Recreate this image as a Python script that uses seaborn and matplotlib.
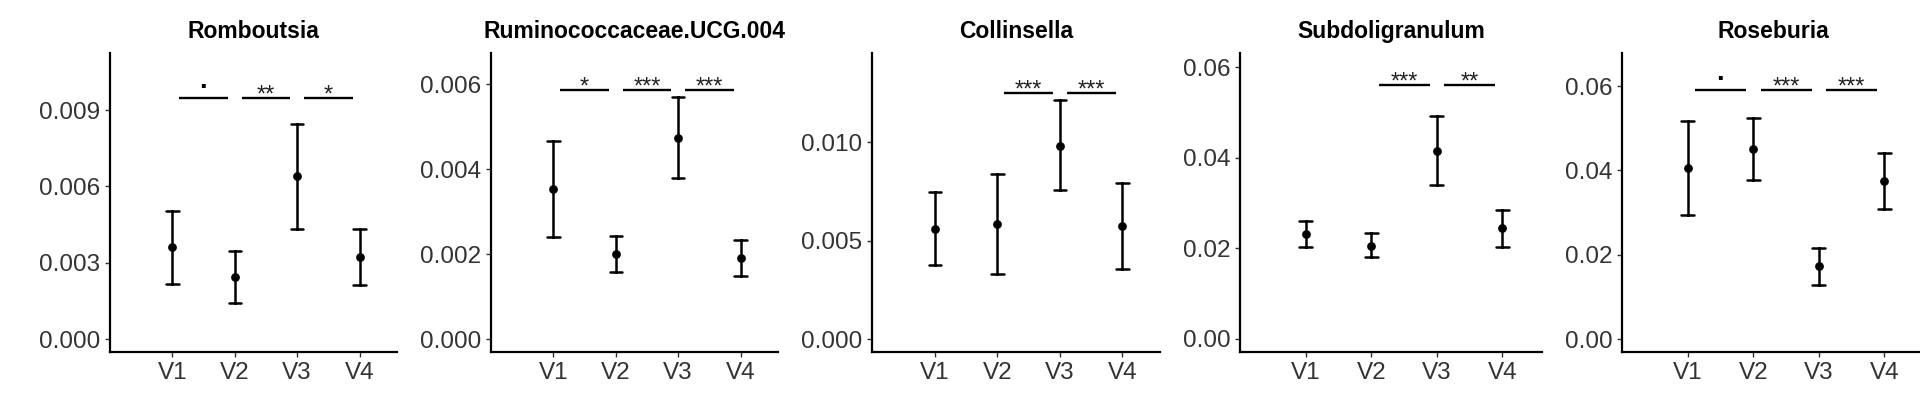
import numpy as np
import pandas as pd
import matplotlib
matplotlib.use("Agg")
import matplotlib.pyplot as plt
import seaborn as sns

# ---------------- data ----------------
visits = ["V1", "V2", "V3", "V4"]
taxa = ["Romboutsia", "Ruminococcaceae.UCG.004", "Collinsella",
        "Subdoligranulum", "Roseburia"]

romboutsia_mean = [0.00362, 0.00243, 0.00640, 0.00322]
romboutsia_low = [0.00216, 0.00140, 0.00434, 0.00212]
romboutsia_high = [0.00504, 0.00346, 0.00845, 0.00434]

rumino_mean = [0.00353, 0.00201, 0.00474, 0.00190]
rumino_low = [0.00240, 0.00159, 0.00379, 0.00149]
rumino_high = [0.00466, 0.00243, 0.00569, 0.00233]

collinsella_mean = [0.00561, 0.00583, 0.00983, 0.00575]
collinsella_low = [0.00378, 0.00329, 0.00758, 0.00358]
collinsella_high = [0.00746, 0.00841, 0.01214, 0.00795]

subdoli_mean = [0.0231, 0.0206, 0.0415, 0.0244]
subdoli_low = [0.0202, 0.0180, 0.0340, 0.0203]
subdoli_high = [0.0260, 0.0233, 0.0491, 0.0285]

roseburia_mean = [0.0406, 0.0450, 0.0173, 0.0375]
roseburia_low = [0.0295, 0.0377, 0.0129, 0.0308]
roseburia_high = [0.0517, 0.0524, 0.0216, 0.0441]

romboutsia_sig = [("V1", "V2", "."), ("V2", "V3", "**"), ("V3", "V4", "*")]
rumino_sig = [("V1", "V2", "*"), ("V2", "V3", "***"), ("V3", "V4", "***")]
collinsella_sig = [("V2", "V3", "***"), ("V3", "V4", "***")]
subdoli_sig = [("V2", "V3", "***"), ("V3", "V4", "**")]
roseburia_sig = [("V1", "V2", "."), ("V2", "V3", "***"), ("V3", "V4", "***")]
sig_levels = [0.00949, 0.00587, 0.01251, 0.05596, 0.05907]

romboutsia_ticks = [0.000, 0.003, 0.006, 0.009]
rumino_ticks = [0.000, 0.002, 0.004, 0.006]
collinsella_ticks = [0.000, 0.005, 0.010]
subdoli_ticks = [0.00, 0.02, 0.04, 0.06]
roseburia_ticks = [0.00, 0.02, 0.04, 0.06]
tick_formats = ["{:.3f}", "{:.3f}", "{:.3f}", "{:.2f}", "{:.2f}"]

means = [romboutsia_mean, rumino_mean, collinsella_mean, subdoli_mean, roseburia_mean]
lows = [romboutsia_low, rumino_low, collinsella_low, subdoli_low, roseburia_low]
highs = [romboutsia_high, rumino_high, collinsella_high, subdoli_high, roseburia_high]
sigs = [romboutsia_sig, rumino_sig, collinsella_sig, subdoli_sig, roseburia_sig]
yticks = [romboutsia_ticks, rumino_ticks, collinsella_ticks, subdoli_ticks, roseburia_ticks]

# ---------------- layout ----------------
W, H = 1920, 400
panel_left_px = [110, 491, 872.3, 1240.3, 1622.3]
panel_width_px = [287, 287, 287.7, 301.4, 301.4]
top_px, bottom_px = 53, 352
ylims = [(-0.000511, 0.011245), (-0.000306, 0.006737), (-0.000661, 0.014547),
         (-0.002868, 0.06309), (-0.003084, 0.06785)]

sns.set_theme(style="ticks")
plt.rcParams["font.family"] = ["Liberation Sans", "DejaVu Sans"]

fig = plt.figure(figsize=(W / 100, H / 100), dpi=100)
fig.patch.set_facecolor("white")

text_grey = "#333333"

for i, taxon in enumerate(taxa):
    ax = fig.add_axes([panel_left_px[i] / W, (H - bottom_px) / H,
                       panel_width_px[i] / W, (bottom_px - top_px) / H])
    df = pd.DataFrame({
        "visit": visits * 3,
        "value": list(lows[i]) + list(means[i]) + list(highs[i]),
    })
    sns.pointplot(data=df, x="visit", y="value", order=visits,
                  estimator="median",
                  errorbar=lambda v: (v.min(), v.max()),
                  color="black", capsize=0.2, linestyle="none",
                  markersize=6.3, markeredgewidth=0,
                  err_kws={"linewidth": 1.8, "color": "black"}, ax=ax)
    # significance brackets
    for a, b, lab in sigs[i]:
        x0 = visits.index(a) + 0.11
        x1 = visits.index(b) - 0.11
        yl = sig_levels[i]
        ax.plot([x0, x1], [yl, yl], color="black", lw=1.7,
                solid_capstyle="butt")
        if lab == ".":
            ax.annotate("·", xy=((x0 + x1) / 2, yl), xytext=(0, 2),
                        textcoords="offset points", ha="center",
                        va="baseline", fontsize=20, fontweight="bold",
                        color="black")
        else:
            ax.annotate(lab, xy=((x0 + x1) / 2, yl), xytext=(0, -2.5),
                        textcoords="offset points", ha="center",
                        va="baseline", fontsize=17, color="#222222")

    ax.set_xlim(-1, 3.6)
    ax.set_ylim(*ylims[i])
    ax.set_yticks(yticks[i])
    ax.set_yticklabels([tick_formats[i].format(t) for t in yticks[i]])
    ax.set_xlabel("")
    ax.set_ylabel("")
    ax.set_title(taxon, fontsize=16.5, fontweight="bold", pad=11, color="black")
    for s in ["top", "right"]:
        ax.spines[s].set_visible(False)
    for s in ["left", "bottom"]:
        ax.spines[s].set_linewidth(1.6)
        ax.spines[s].set_color("black")
    ax.tick_params(axis="both", length=3.5, width=1.0, color="#333333",
                   labelsize=17.5, labelcolor=text_grey, pad=3.5)
    ax.set_facecolor("white")

fig.savefig("out.png", dpi=100, facecolor="white")
